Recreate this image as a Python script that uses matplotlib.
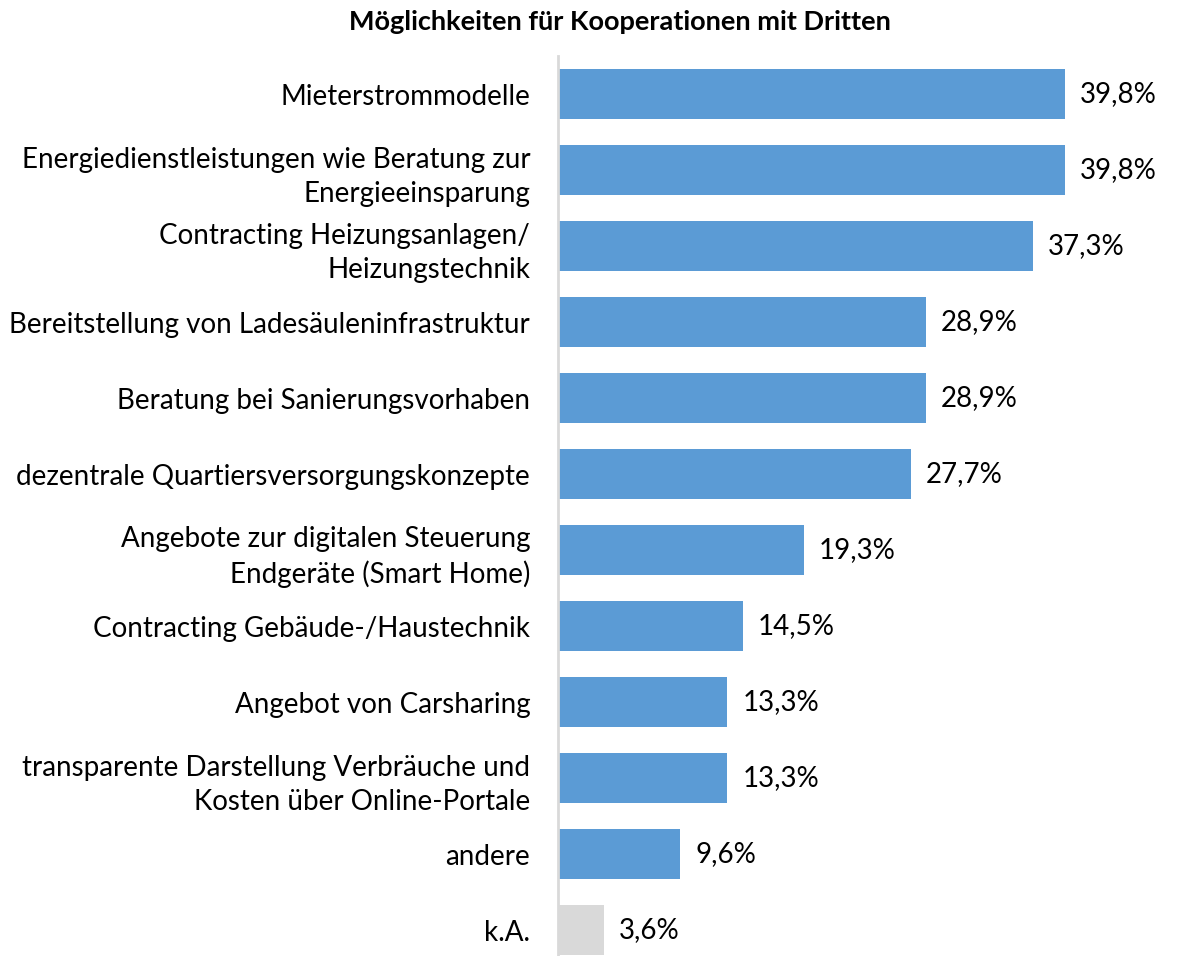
import matplotlib.pyplot as plt

# data
categories = [
    "Mieterstrommodelle",
    "Energiedienstleistungen wie Beratung zur\nEnergieeinsparung",
    "Contracting Heizungsanlagen/\nHeizungstechnik",
    "Bereitstellung von Ladesäuleninfrastruktur",
    "Beratung bei Sanierungsvorhaben",
    "dezentrale Quartiersversorgungskonzepte",
    "Angebote zur digitalen Steuerung\nEndgeräte (Smart Home)",
    "Contracting Gebäude-/Haustechnik",
    "Angebot von Carsharing",
    "transparente Darstellung Verbräuche und\nKosten über Online-Portale",
    "andere",
    "k.A.",
]
values = [39.8, 39.8, 37.3, 28.9, 28.9, 27.7, 19.3, 14.5, 13.3, 13.3, 9.6, 3.6]
value_labels = ["39,8%", "39,8%", "37,3%", "28,9%", "28,9%", "27,7%",
                "19,3%", "14,5%", "13,3%", "13,3%", "9,6%", "3,6%"]

plt.rcParams['font.family'] = ['Lato', 'DejaVu Sans']

W, H = 1184, 956
fig = plt.figure(figsize=(W / 100, H / 100), dpi=100)
ax = fig.add_axes([558 / W, 0, 1 - 558 / W, 1 - 56 / H])

colors = ['#5B9BD5'] * (len(values) - 1) + ['#D9D9D9']
ypos = list(range(len(values)))
ax.barh(ypos, values, height=0.66, color=colors)

ax.set_xlim(0, (W - 558) / 12.74)
ax.set_ylim(11.34, -0.5)

for y, v, lab in zip(ypos, values, value_labels):
    ax.annotate(lab, (v, y), xytext=(15, 0), textcoords='offset pixels',
                va='center', ha='left', fontsize=20, color='#000000')

ax.set_yticks(ypos)
ax.set_yticklabels(categories, fontsize=20, linespacing=1.4)
ax.tick_params(axis='y', length=0, pad=20)
ax.set_xticks([])

for s in ['top', 'right', 'bottom']:
    ax.spines[s].set_visible(False)
ax.spines['left'].set_color('#D9D9D9')
ax.spines['left'].set_linewidth(2)

fig.text(620 / W, 1 - 22 / H, "Möglichkeiten für Kooperationen mit Dritten",
         ha='center', va='center', fontsize=19.5, fontweight='bold')

fig.savefig('out.png', dpi=100)
